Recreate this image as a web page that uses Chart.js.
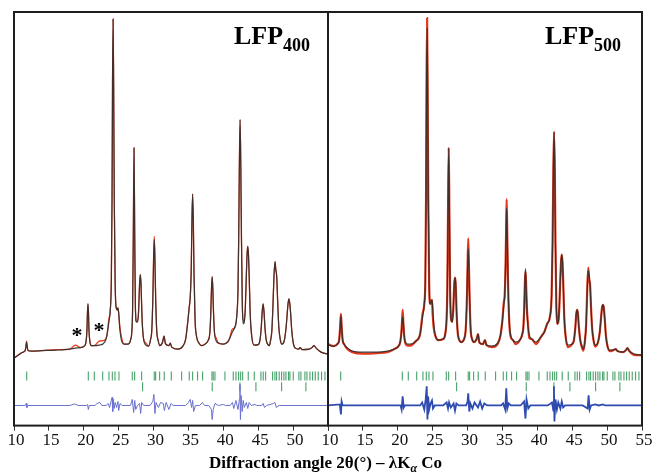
<!DOCTYPE html>
<html>
<head>
<meta charset="utf-8">
<title>LFP XRD refinement</title>
<script src="https://cdn.jsdelivr.net/npm/chart.js@4.4.1/dist/chart.umd.min.js"></script>
<style>
  body { margin: 0; background: #fff; }
  #wrap { position: relative; width: 653px; height: 474px; overflow: hidden; }
  canvas { position: absolute; top: 0; }
  #left { left: 0; }
  #right { left: 310px; }
  .tag { position: absolute; top: 23px; font: bold 26px 'Liberation Serif', serif; line-height: 1; color: #000; white-space: nowrap; }
  .tag span { font-size: 18px; position: relative; top: 7px; }
  #xtitle { position: absolute; left: 0; width: 651px; top: 454px; text-align: center; font: bold 17px 'Liberation Serif', serif; line-height: 1; color: #000; }
  #xtitle i { font-size: 12px; position: relative; top: 4px; }
</style>
</head>
<body>
<div id="wrap">
  <canvas id="left" width="340" height="474"></canvas>
  <canvas id="right" width="343" height="474"></canvas>
  <div class="tag" style="left:234px">LFP<span>400</span></div>
  <div class="tag" style="left:545px">LFP<span>500</span></div>
  <div id="xtitle">Diffraction angle 2θ(°) – λK<i>α</i> Co</div>
</div>
<script>
// LFP400 pattern: 2θ (deg), observed and calculated intensity (a.u.)
const angles400 = [
  10.0, 11.0, 11.5, 11.6, 11.7, 11.8, 11.9, 12.0, 12.5, 14.0,
  16.0, 18.0, 18.8, 19.5, 20.1, 20.3, 20.45, 20.53, 20.6, 20.67,
  20.75, 20.9, 21.1, 21.5, 22.2, 23.0, 23.3, 23.6, 23.8, 23.95,
  24.05, 24.12, 24.2, 24.28, 24.37, 24.5, 24.65, 24.8, 24.9, 25.0,
  25.15, 25.4, 25.8, 26.3, 26.7, 26.9, 27.0, 27.1, 27.2, 27.3,
  27.4, 27.55, 27.7, 27.85, 28.0, 28.1, 28.2, 28.35, 28.55, 28.9,
  29.3, 29.55, 29.75, 29.9, 30.0, 30.1, 30.2, 30.3, 30.45, 30.65,
  30.9, 31.3, 31.5, 31.7, 32.2, 32.4, 32.6, 33.5, 34.2, 34.6,
  34.9, 35.1, 35.25, 35.4, 35.5, 35.6, 35.7, 35.8, 35.95, 36.15,
  36.5, 36.9, 37.4, 37.85, 38.05, 38.2, 38.3, 38.4, 38.5, 38.6,
  38.75, 38.95, 39.3, 40.0, 40.8, 41.3, 41.6, 41.9, 42.1, 42.2,
  42.3, 42.4, 42.5, 42.6, 42.72, 42.85, 43.0, 43.15, 43.3, 43.4,
  43.5, 43.6, 43.7, 43.85, 44.05, 44.4, 45.0, 45.25, 45.44, 45.57,
  45.7, 45.83, 45.96, 46.15, 46.4, 46.6, 46.75, 46.95, 47.1, 47.25,
  47.4, 47.52, 47.65, 47.8, 47.95, 48.15, 48.4, 48.75, 49.0, 49.14,
  49.27, 49.4, 49.53, 49.66, 49.8, 50.0, 50.3, 50.8, 51.0, 51.3,
  52.3, 52.7, 53.0, 53.3, 54.0, 55.0];
const calc400 = [
  20, 70, 88, 97, 130, 180, 130, 97, 90, 95,
  100, 110, 120, 125, 142, 175, 290, 475, 560, 475,
  290, 175, 145, 145, 150, 180, 240, 380, 500, 800,
  1600, 2750, 3390, 2750, 1600, 750, 520, 500, 520, 470,
  320, 200, 160, 160, 200, 300, 520, 1250, 2110, 1250,
  520, 380, 380, 480, 760, 850, 760, 420, 220, 150,
  140, 200, 300, 620, 990, 1200, 990, 620, 300, 200,
  145, 180, 240, 165, 145, 170, 130, 110, 140, 210,
  380, 520, 620, 900, 1380, 1650, 1380, 850, 400, 240,
  170, 145, 160, 200, 260, 460, 700, 830, 700, 460,
  260, 195, 170, 160, 200, 280, 320, 420, 700, 1200,
  1950, 2390, 1950, 1200, 550, 360, 380, 520, 850, 1050,
  1130, 1050, 850, 460, 250, 150, 155, 200, 330, 480,
  560, 480, 330, 200, 155, 145, 190, 290, 520, 820,
  980, 900, 830, 560, 330, 210, 160, 200, 330, 450,
  560, 610, 560, 450, 300, 180, 120, 110, 125, 105,
  110, 125, 145, 120, 80, 60];
const obs400 = [
  20, 70, 88, 97, 130, 190, 130, 97, 90, 95,
  105, 110, 150, 125, 142, 175, 290, 475, 560, 475,
  290, 175, 145, 145, 190, 200, 240, 410, 500, 800,
  1600, 2750, 3390, 2750, 1600, 750, 520, 500, 520, 470,
  350, 230, 160, 160, 200, 300, 520, 1250, 2110, 1250,
  520, 380, 380, 480, 760, 850, 760, 420, 220, 170,
  140, 200, 300, 620, 990, 1230, 990, 620, 300, 200,
  145, 180, 240, 165, 145, 170, 130, 110, 140, 210,
  380, 520, 620, 900, 1380, 1650, 1380, 850, 400, 240,
  170, 145, 160, 200, 260, 460, 700, 830, 700, 460,
  260, 225, 170, 160, 200, 310, 320, 420, 700, 1200,
  1950, 2390, 1950, 1200, 550, 400, 380, 520, 850, 1050,
  1130, 1050, 850, 460, 250, 150, 155, 200, 330, 480,
  560, 480, 330, 200, 155, 145, 190, 290, 520, 820,
  980, 900, 830, 560, 330, 210, 160, 200, 330, 450,
  560, 610, 560, 450, 300, 180, 120, 110, 125, 105,
  110, 125, 145, 120, 80, 60];
// LFP400 difference (obs - calc)
const diffAngles400 = [10.0, 11.6, 11.75, 11.85, 12.0, 18.0, 18.7, 19.2, 20.4, 20.55, 20.65, 20.8, 21.6, 21.9, 22.3, 22.6, 23.2, 23.5, 23.7, 23.9,
  24.05, 24.15, 24.25, 24.35, 24.5, 24.7, 24.9, 25.0, 25.2, 25.5, 26.7, 26.95, 27.15, 27.3, 27.45, 27.7, 28.0, 28.15, 28.3, 28.6,
  29.5, 29.9, 30.05, 30.2, 30.35, 30.7, 31.0, 31.4, 31.55, 31.8, 32.2, 32.5, 32.8, 34.6, 35.0, 35.25, 35.45, 35.6, 35.75, 36.0,
  36.6, 37.0, 37.3, 37.9, 38.3, 38.4, 38.55, 38.8, 39.3, 40.0, 40.3, 41.0, 41.3, 41.5, 41.8, 42.1, 42.3, 42.38, 42.45, 42.55,
  42.7, 42.85, 43.0, 43.3, 43.5, 43.7, 44.0, 44.5, 44.8, 45.5, 45.7, 45.9, 46.2, 47.2, 47.4, 47.6, 48.0, 55.0];
const diff400 = [0, 0, 20, -20, 0, 0, 15, 0, 0, 10, -40, 0, 0, 20, 30, 0, 0, 20, -20, 40,
  80, -60, 60, -30, 30, -20, 40, -50, 20, 0, 0, 60, -70, 50, -40, 0, 20, -80, 30, 0,
  0, 40, 110, -80, 30, -20, 30, 20, -50, 30, -40, 20, 0, 0, 30, 60, -20, 50, -60, 0,
  0, 30, 0, 0, -40, -140, -40, 20, 0, 10, 0, 0, 30, -30, 50, -40, 60, 210, -140, 100,
  -60, 50, -20, 30, -30, 30, 0, 10, 0, 0, 20, -20, 0, 20, 30, -20, 0, 0];

// LFP500 pattern
const angles500 = [
  10.0, 10.8, 11.4, 11.6, 11.75, 11.85, 11.95, 12.1, 12.3, 12.8,
  13.5, 15.0, 17.0, 18.5, 19.5, 20.1, 20.35, 20.5, 20.6, 20.7,
  20.8, 20.9, 21.05, 21.4, 21.8, 22.6, 23.2, 23.55, 23.8, 23.95,
  24.05, 24.12, 24.2, 24.28, 24.37, 24.5, 24.65, 24.8, 24.9, 25.0,
  25.15, 25.4, 25.8, 26.5, 26.8, 27.0, 27.1, 27.2, 27.3, 27.4,
  27.5, 27.65, 27.8, 27.95, 28.1, 28.2, 28.3, 28.45, 28.65, 29.1,
  29.55, 29.75, 29.9, 30.0, 30.1, 30.2, 30.3, 30.45, 30.65, 30.9,
  31.3, 31.5, 31.7, 32.2, 32.5, 32.7, 33.5, 34.3, 34.7, 35.0,
  35.2, 35.32, 35.45, 35.53, 35.6, 35.68, 35.78, 35.95, 36.15, 36.5,
  36.9, 37.5, 37.85, 38.0, 38.12, 38.22, 38.3, 38.38, 38.5, 38.65,
  38.85, 39.2, 39.8, 40.5, 41.0, 41.4, 41.8, 42.05, 42.18, 42.3,
  42.4, 42.5, 42.6, 42.72, 42.85, 43.0, 43.15, 43.3, 43.4, 43.5,
  43.6, 43.7, 43.85, 44.05, 44.4, 45.0, 45.25, 45.45, 45.58, 45.7,
  45.82, 45.95, 46.15, 46.4, 46.6, 46.8, 47.0, 47.15, 47.3, 47.45,
  47.55, 47.7, 47.85, 48.05, 48.3, 48.7, 48.95, 49.13, 49.27, 49.4,
  49.53, 49.67, 49.82, 50.05, 50.4, 50.9, 51.2, 51.5, 52.3, 52.7,
  52.9, 53.2, 54.0, 55.0];
const calc500 = [
  150, 140, 165, 200, 340, 440, 340, 200, 160, 120,
  90, 80, 80, 90, 110, 140, 180, 260, 370, 430,
  370, 260, 180, 160, 160, 190, 260, 430, 560, 800,
  1600, 2700, 3300, 2700, 1600, 750, 560, 580, 600, 520,
  360, 240, 200, 210, 260, 420, 700, 1450, 2110, 1450,
  700, 400, 380, 500, 760, 820, 760, 440, 240, 180,
  220, 320, 600, 920, 1110, 920, 600, 300, 210, 180,
  210, 260, 175, 160, 200, 150, 140, 170, 240, 400,
  550, 640, 960, 1300, 1510, 1300, 850, 420, 260, 200,
  180, 200, 260, 330, 520, 780, 910, 780, 520, 340,
  250, 210, 180, 230, 280, 360, 430, 650, 1150, 1900,
  2270, 1900, 1150, 550, 360, 380, 520, 820, 980, 1050,
  980, 800, 440, 240, 150, 160, 200, 330, 460, 500,
  460, 330, 200, 140, 110, 180, 360, 700, 890, 820,
  760, 520, 320, 200, 150, 180, 280, 420, 520, 550,
  520, 400, 250, 140, 100, 100, 110, 90, 80, 100,
  120, 90, 60, 50];
const obs500 = [
  160, 140, 165, 200, 340, 460, 340, 200, 160, 110,
  80, 65, 70, 80, 110, 140, 180, 260, 370, 500,
  370, 260, 180, 145, 145, 190, 260, 460, 560, 800,
  1600, 2700, 3400, 2700, 1600, 750, 560, 580, 600, 460,
  320, 240, 200, 210, 260, 420, 700, 1450, 2110, 1450,
  700, 400, 380, 500, 760, 820, 760, 440, 240, 180,
  220, 320, 600, 920, 1210, 920, 600, 300, 210, 180,
  210, 260, 175, 160, 200, 150, 130, 160, 240, 400,
  580, 640, 960, 1300, 1600, 1300, 850, 420, 240, 200,
  160, 200, 260, 330, 520, 780, 880, 780, 520, 370,
  220, 210, 160, 230, 280, 360, 430, 650, 1150, 1900,
  2270, 1900, 1150, 550, 360, 380, 520, 820, 980, 1050,
  980, 800, 440, 240, 130, 160, 200, 330, 460, 500,
  460, 330, 200, 125, 95, 180, 360, 700, 920, 790,
  760, 520, 320, 200, 135, 180, 280, 420, 520, 550,
  520, 400, 250, 140, 90, 100, 110, 90, 80, 100,
  120, 90, 50, 50];
// LFP500 difference (obs - calc)
const diffAngles500 = [10.0, 11.7, 11.85, 11.95, 12.1, 20.4, 20.55, 20.7, 20.85, 21.0, 23.2, 23.5, 23.8, 24.0, 24.15, 24.25, 24.35, 24.5, 24.7, 24.9,
  25.05, 25.3, 26.5, 27.0, 27.2, 27.35, 27.6, 28.0, 28.2, 28.4, 28.7, 29.8, 30.0, 30.1, 30.25, 30.4, 30.7, 31.0, 31.5, 31.8,
  32.1, 32.4, 32.8, 34.8, 35.1, 35.4, 35.55, 35.7, 35.9, 36.2, 37.6, 38.1, 38.3, 38.45, 38.7, 39.0, 41.5, 42.1, 42.3, 42.38,
  42.45, 42.6, 42.8, 43.0, 43.3, 43.5, 43.7, 44.0, 46.5, 47.2, 47.35, 47.5, 47.7, 48.3, 48.8, 49.4, 49.7, 55.0];
const diff500 = [0, 10, -90, 40, 0, 0, -40, 90, -20, 0, 0, 30, -40, 60, 190, -140, 90, -40, 20, 50,
  -30, 0, 0, 30, -30, 30, -20, 20, -50, 20, 0, 0, 40, 120, -60, 20, -30, 30, -20, 40,
  -30, 20, 0, 0, 20, -40, 170, -30, 20, 0, 0, 40, -130, 60, -30, 0, 0, 30, -50, 190,
  -160, 60, -40, 30, -30, 40, -20, 0, 0, -30, 100, -40, 0, 10, 0, 10, 0, 0];

// Bragg reflection positions: LiFePO4 (upper row) and second phase (lower row)
const reflMain = [11.82, 20.65, 21.51, 22.71, 23.61, 24.09, 24.47, 25.04, 26.95, 27.29, 28.29, 30.10, 30.30, 30.87, 31.53, 32.54,
  34.02, 35.12, 35.60, 36.31, 37.03, 38.37, 38.55, 38.80, 40.23, 41.42, 41.81, 42.19, 42.48, 42.77, 43.57, 44.43,
  45.39, 45.72, 46.06, 47.06, 47.39, 47.63, 48.01, 48.35, 48.68, 48.97, 49.35, 49.54, 50.02, 50.83, 51.12, 51.69,
  51.98, 52.41, 52.79, 53.17, 53.60, 54.08, 54.56];
const reflSecond = [28.43, 38.41, 42.38, 44.67, 48.35, 51.83];

// Impurity peaks flagged with an asterisk (LFP400 only)
const impurityAngles = [19.03, 22.18];
const impurityLevels = [250, 300];

// Vertical layout of the lower traces (a.u.)
const DIFF_OFFSET = -450;
const ROW_MAIN = -157;
const ROW_SECOND = -265;

const serif = "'Liberation Serif', 'Times New Roman', serif";

// Black frame round the plot area
const framePlugin = {
  id: 'frame',
  afterDraw(chart) {
    const { ctx, chartArea: a } = chart;
    ctx.save();
    ctx.strokeStyle = '#1e1e1e';
    ctx.lineWidth = 2;
    ctx.strokeRect(a.left, a.top, a.right - a.left, a.bottom - a.top);
    ctx.restore();
  }
};

// Asterisks over the impurity reflections
const asteriskPlugin = {
  id: 'asterisks',
  afterDatasetsDraw(chart) {
    const { ctx, scales } = chart;
    ctx.save();
    ctx.fillStyle = '#000';
    ctx.font = 'bold 22px ' + serif;
    ctx.textAlign = 'center';
    ctx.textBaseline = 'middle';
    impurityAngles.forEach((a, i) => {
      ctx.fillText('*', scales.x.getPixelForValue(a), scales.y.getPixelForValue(impurityLevels[i]) + 1);
    });
    ctx.restore();
  }
};

function pairs(xs, ys, offset) {
  return xs.map((x, i) => ({ x: x, y: ys[i] + (offset || 0) }));
}

// Create one panel
function buildPanel(canvasId, p) {
  const ctx = document.getElementById(canvasId).getContext('2d');
  const datasets = [
    {
      label: 'Calculated',
      data: pairs(p.angles, p.calc),
      showLine: true, pointRadius: 0,
      borderColor: 'rgba(45,45,45,0.9)', borderWidth: 1.2,
      cubicInterpolationMode: 'monotone', order: 0
    },
    {
      label: 'Observed',
      data: pairs(p.angles, p.obs),
      showLine: true, pointRadius: 0,
      borderColor: p.obsColor, borderWidth: p.obsWidth,
      cubicInterpolationMode: 'monotone', order: 1
    },
    {
      label: 'Difference',
      data: pairs(p.diffAngles, p.diff, DIFF_OFFSET),
      showLine: true, pointRadius: 0,
      borderColor: p.diffColor, borderWidth: p.diffWidth, order: 2
    },
    {
      label: 'LiFePO4',
      data: reflMain.map(x => ({ x: x, y: ROW_MAIN })),
      pointStyle: 'line', pointRotation: 90, pointRadius: 4.5,
      pointBorderColor: 'rgba(40,145,80,0.85)', pointBorderWidth: 1.1, order: 3
    },
    {
      label: 'Second phase',
      data: reflSecond.map(x => ({ x: x, y: ROW_SECOND })),
      pointStyle: 'line', pointRotation: 90, pointRadius: 4.5,
      pointBorderColor: 'rgba(40,145,80,0.85)', pointBorderWidth: 1.1, order: 4
    }
  ];

  return new Chart(ctx, {
    type: 'scatter',
    data: { datasets: datasets },
    options: {
      responsive: false,
      animation: false,
      events: [],
      layout: { padding: p.padding },
      scales: {
        x: {
          type: 'linear', min: 10, max: 55,
          ticks: {
            stepSize: 5, autoSkip: false, maxRotation: 0, padding: 0, labelOffset: 2,
            color: '#111', font: { family: serif, size: 17 },
            callback: v => (p.hideLast && v === 55) ? '' : v
          },
          grid: { drawOnChartArea: false, drawTicks: true, tickLength: 5, color: '#333' },
          border: { display: false }
        },
        y: { type: 'linear', min: -650, max: 3460, display: false }
      },
      plugins: { legend: { display: false }, tooltip: { enabled: false } }
    },
    plugins: p.plugins
  });
}

buildPanel('left', {
  angles: angles400, obs: obs400, calc: calc400,
  diffAngles: diffAngles400, diff: diff400,
  obsColor: '#e8401f', obsWidth: 1.3,
  diffColor: '#6b70d0', diffWidth: 1,
  hideLast: true,
  padding: { left: 14, right: 12, top: 12, bottom: 23 },
  plugins: [framePlugin, asteriskPlugin]
});

buildPanel('right', {
  angles: angles500, obs: obs500, calc: calc500,
  diffAngles: diffAngles500, diff: diff500,
  obsColor: '#e3361a', obsWidth: 2.2,
  diffColor: '#2e4bb0', diffWidth: 1.8,
  hideLast: false,
  padding: { left: 18, right: 11, top: 12, bottom: 23 },
  plugins: [framePlugin]
});
</script>
</body>
</html>
